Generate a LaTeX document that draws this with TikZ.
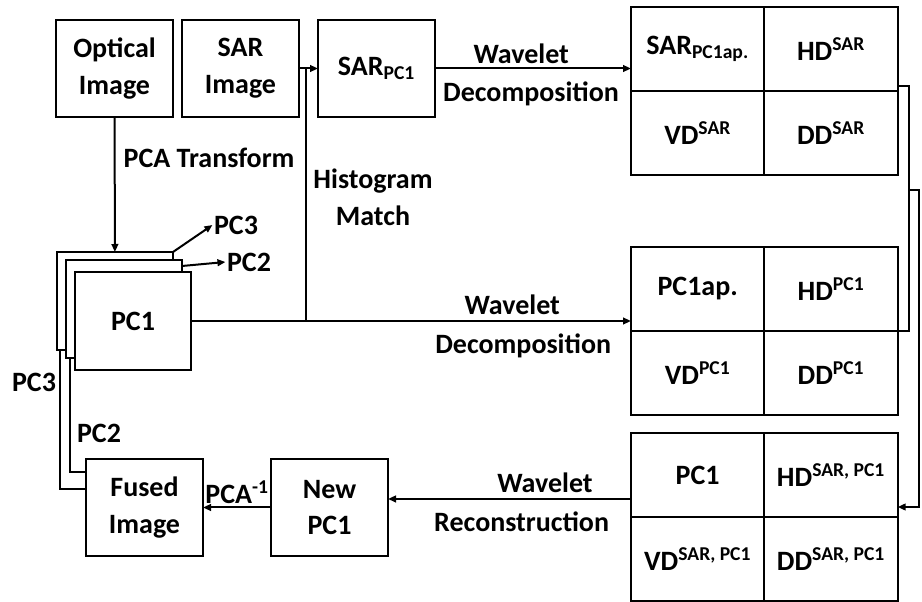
\documentclass[tikz,border=0pt]{standalone}
\usepackage{fontspec}
\setmainfont{Carlito}
\usepackage{tikz}
\usetikzlibrary{
  arrows.meta,
  positioning,
  calc
}
\tikzstyle{imgbox} = [
  rectangle, draw, line width=1.5pt, fill=white,
  minimum width=87.75pt, minimum height=72.75pt,
  inner sep=0pt, outer sep=0pt, align=center,
  font=\fontsize{21}{27.5}\selectfont\bfseries
]
\tikzstyle{pcbox} = [imgbox, minimum width=87pt, minimum height=73.5pt]
\tikzstyle{cellbox} = [imgbox, minimum width=100pt, minimum height=63pt]
\tikzstyle{txt} = [inner sep=1pt, align=center, font=\fontsize{21}{27.5}\selectfont\bfseries]
\tikzstyle{arrowstyle} = [-{Triangle[length=6pt,width=5pt]}, line width=1.5pt]
\tikzstyle{linestyle} = [line width=1.5pt]

\begin{document}
\begin{tikzpicture}[x=0.75pt, y=-0.75pt]
\useasboundingbox (0,0) rectangle (922,602);

% --- Input images ---
\node[imgbox, anchor=north west] (optical) at (56,20) {Optical\\Image};
\node[imgbox, right=6.75pt of optical] (sarimg) {SAR\\Image};
\node[imgbox, right=14.25pt of sarimg] (sarpc) {SAR\textsubscript{PC1}};

% --- PCA components ---
\node[pcbox, anchor=north west] (pcc) at (57,252) {};
\node[pcbox, anchor=north west] (pcb) at (66,260) {};
\node[pcbox, anchor=north west] (pca) at (75,272) {PC1};
\node[txt] (lpc3) at (236,225) {PC3};
\node[txt] (lpc2) at (249,262) {PC2};

% --- Output ---
\node[imgbox, anchor=north west] (fused) at (86,459) {Fused\\Image};
\node[imgbox, right=51pt of fused] (newpc) {New\\PC1};

% --- Wavelet grids ---
\node[cellbox, anchor=north west] (g1a) at (631,7) {SAR\textsubscript{PC1ap.}};
\node[cellbox, right=0pt of g1a] (g1b) {HD\textsuperscript{SAR}};
\node[cellbox, below=0pt of g1a] (g1c) {VD\textsuperscript{SAR}};
\node[cellbox, right=0pt of g1c] (g1d) {DD\textsuperscript{SAR}};

\node[cellbox, anchor=north west] (g2a) at (631,247) {PC1ap.};
\node[cellbox, right=0pt of g2a] (g2b) {HD\textsuperscript{PC1}};
\node[cellbox, below=0pt of g2a] (g2c) {VD\textsuperscript{PC1}};
\node[cellbox, right=0pt of g2c] (g2d) {DD\textsuperscript{PC1}};

\node[cellbox, anchor=north west] (g3a) at (631,433) {PC1};
\node[cellbox, right=0pt of g3a] (g3b) {HD\textsuperscript{SAR, PC1}};
\node[cellbox, below=0pt of g3a] (g3c) {VD\textsuperscript{SAR, PC1}};
\node[cellbox, right=0pt of g3c] (g3d) {DD\textsuperscript{SAR, PC1}};

% --- Labels ---
\node[txt] (histlbl) at (373,197) {Histogram\\Match};
\node[txt] (lblpc3) at (34,382) {PC3};
\node[txt] (lblpc2) at (99,433) {PC2};

% --- Arrows ---
\draw[arrowstyle] (optical) -- (pcc) node[txt, right=5pt, pos=0.3] {PCA Transform};
\draw[arrowstyle] (pcc.north east) -- (lpc3.west);
\draw[arrowstyle] ([yshift=-4.5pt]pcb.north east) -- (lpc2.west);

\draw[arrowstyle] (sarimg) -- (sarpc);
\coordinate (hmtop) at ($(sarimg.east)!0.37!(sarpc.west)$);
\draw[linestyle] (hmtop) -- (hmtop |- pca.east);

\draw[arrowstyle] (sarpc.east) -- (sarpc.east -| g1a.west)
  node[txt, above=2pt, pos=0.44] {Wavelet}
  node[txt, below=8pt, pos=0.49] {Decomposition};
\draw[arrowstyle] (pca.east) -- (pca.east -| g2a.west)
  node[txt, above=3pt, pos=0.73] {Wavelet}
  node[txt, below=8pt, pos=0.755] {Decomposition};

\draw[linestyle] ([yshift=3.75pt]g1b.south east) -- ++(11,0) coordinate (rjoin) |- (g2b.south east);
\path (rjoin) ++(0,104) coordinate (rfork);
\draw[arrowstyle] (rfork) -- ++(10,0) |- ([yshift=7.5pt]g3b.south east);

\coordinate (recin) at ([yshift=6.4pt]newpc.east);
\draw[arrowstyle] (recin -| g3a.west) -- (recin)
  node[txt, above=3pt, pos=0.354] {Wavelet}
  node[txt, below=8pt, pos=0.45] {Reconstruction};
\draw[arrowstyle] (newpc) -- (fused) node[txt, above=1pt, midway] {PCA\textsuperscript{-1}};

\draw[linestyle] ([xshift=2.25pt]pcc.south west) |- ([yshift=13.9pt]fused.west);
\draw[linestyle] ([xshift=3pt]pcb.south west) |- ([yshift=26.6pt]fused.west);

\end{tikzpicture}
\end{document}
